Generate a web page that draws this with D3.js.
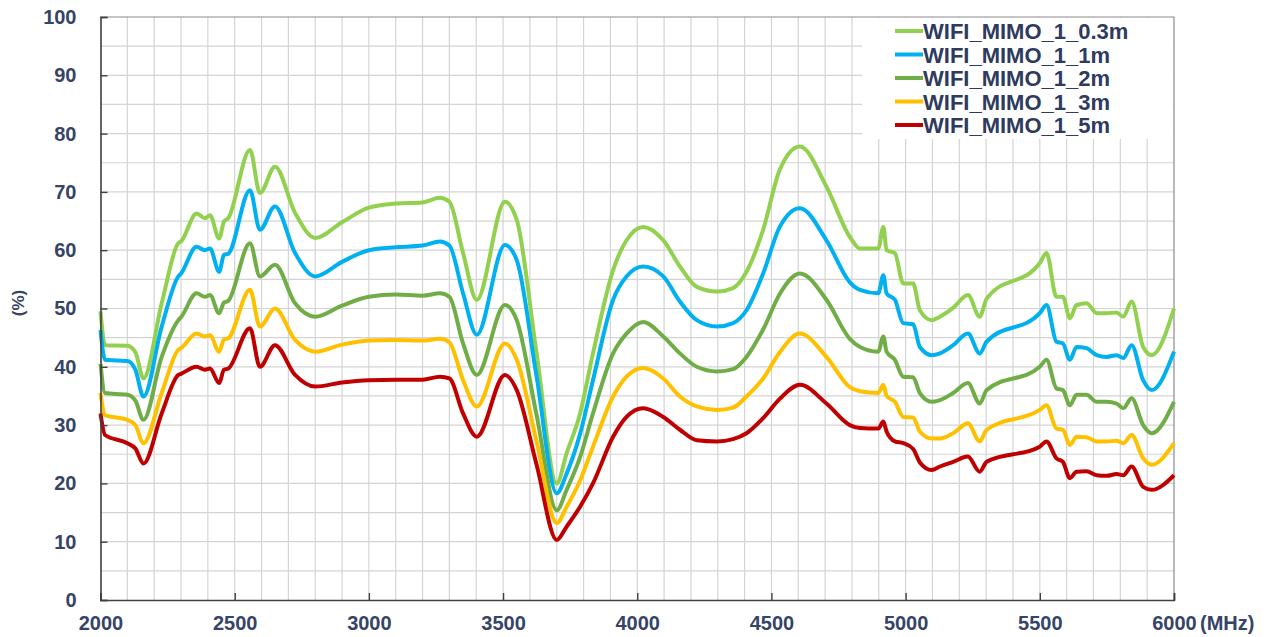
<!DOCTYPE html>
<html>
<head>
<meta charset="utf-8">
<script src="https://cdn.jsdelivr.net/npm/d3@7"></script>
<style>
	body { margin: 0; background: #fff; }
	text { font-family: 'Liberation Sans', Arial, sans-serif; font-weight: bold; }
</style>
</head>
<body>
<div id="chart"></div>
<script>
'use strict'

var FREQS = [2000, 2017, 2100, 2130, 2160, 2228, 2290, 2300, 2358, 2389, 2408, 2442, 2460, 2476,
	2557, 2594, 2650, 2725, 2800, 2900, 3000, 3100, 3200, 3265, 3300, 3351, 3402, 3507, 3551,
	3625, 3700, 3737, 3787, 3835, 3910, 3960, 4022, 4097, 4159, 4222, 4297, 4357, 4407, 4469,
	4531, 4606, 4705, 4792, 4830, 4898, 4917, 4929, 4960, 4991, 5028, 5053, 5097, 5128, 5177,
	5232, 5276, 5302, 5500, 5525, 5562, 5586, 5612, 5637, 5674, 5712, 5749, 5786, 5811, 5842,
	5885, 5917, 6000];

var MIMO_03M = [49.5, 43.7, 43.6, 42.5, 38.0, 50.9, 61.2, 61.5, 66.3, 65.5, 66.0, 62.0, 64.9, 65.5,
	77.2, 69.8, 74.3, 66.4, 62.1, 64.8, 67.3, 68.0, 68.2, 69.0, 68.3, 59.5, 51.5, 68.3, 65.2,
	42.3, 20.0, 25.2, 32.0, 42.3, 56.6, 61.7, 64.0, 61.7, 57.2, 53.7, 52.9, 53.5, 56.3, 63.5,
	73.8, 77.8, 70.9, 62.3, 60.3, 60.3, 64.0, 60.0, 59.5, 54.3, 54.3, 49.7, 48.0, 48.6, 50.1,
	52.3, 48.6, 51.7, 57.8, 59.5, 52.0, 52.0, 48.3, 50.6, 50.9, 49.2, 49.2, 49.3, 48.6, 51.2,
	43.4, 42.0, 50.0];

var MIMO_1M = [46.3, 41.2, 41.0, 39.5, 34.9, 46.9, 55.5, 56.0, 60.6, 60.0, 60.3, 56.3, 59.2, 59.4,
	70.3, 63.5, 67.5, 59.5, 55.5, 58.0, 60.0, 60.5, 60.8, 61.5, 60.8, 52.6, 45.5, 60.9, 58.3,
	38.3, 18.3, 21.7, 28.5, 37.7, 51.5, 55.5, 57.2, 55.5, 51.2, 48.0, 46.9, 47.5, 49.7, 56.0,
	64.0, 67.2, 61.7, 54.5, 53.2, 52.6, 55.7, 52.6, 51.5, 47.5, 47.3, 43.4, 42.0, 42.3, 43.7,
	45.7, 42.3, 44.3, 49.2, 50.6, 44.3, 44.0, 41.2, 43.4, 43.2, 42.0, 41.7, 42.0, 41.5, 43.7,
	37.7, 36.0, 42.6];

var MIMO_2M = [40.5, 35.5, 35.2, 34.2, 30.9, 41.7, 48.0, 48.5, 52.6, 52.0, 52.3, 49.2, 51.0, 51.3,
	61.2, 55.5, 57.5, 50.9, 48.6, 50.5, 52.0, 52.4, 52.2, 52.6, 52.0, 44.0, 38.6, 50.6, 48.0,
	31.7, 15.4, 18.9, 24.5, 32.0, 42.3, 45.7, 47.7, 45.2, 42.3, 40.0, 39.2, 39.6, 41.7, 46.4,
	52.5, 56.0, 51.5, 44.8, 43.4, 42.6, 45.2, 42.6, 41.2, 38.3, 38.2, 35.5, 34.0, 34.3, 35.5,
	37.2, 33.7, 36.0, 40.0, 41.2, 36.3, 36.0, 33.4, 35.2, 35.2, 34.0, 34.0, 33.7, 32.9, 34.6,
	30.0, 28.6, 34.0];

var MIMO_3M = [35.5, 31.7, 30.9, 30.0, 26.9, 35.5, 42.9, 43.2, 45.7, 45.2, 45.4, 42.6, 44.7, 44.9,
	53.2, 46.9, 50.0, 44.6, 42.6, 43.8, 44.5, 44.6, 44.5, 44.8, 44.2, 37.7, 33.2, 44.0, 41.2,
	27.2, 13.2, 16.0, 20.5, 26.3, 34.9, 38.3, 39.8, 38.0, 34.9, 33.2, 32.6, 33.0, 34.9, 38.0,
	42.5, 45.7, 41.7, 36.5, 35.8, 35.5, 36.9, 35.0, 34.0, 31.4, 31.3, 28.9, 27.7, 27.7, 28.6,
	30.3, 27.2, 29.2, 32.6, 33.4, 29.4, 29.2, 26.6, 28.0, 27.9, 27.2, 27.2, 27.3, 26.9, 28.3,
	24.3, 23.2, 26.9];

var MIMO_5M = [32.0, 28.3, 26.9, 26.0, 23.4, 32.0, 38.6, 38.8, 40.0, 39.5, 39.7, 37.2, 39.5, 39.7,
	46.6, 40.0, 43.7, 38.6, 36.6, 37.3, 37.7, 37.8, 37.8, 38.3, 38.0, 32.0, 28.0, 38.6, 36.0,
	23.2, 10.3, 12.6, 16.0, 20.0, 28.0, 31.4, 32.9, 31.4, 29.2, 27.4, 27.2, 27.6, 28.6, 31.2,
	34.5, 36.9, 33.7, 30.0, 29.5, 29.4, 30.6, 28.9, 27.2, 26.9, 25.9, 23.6, 22.3, 22.9, 23.7,
	24.6, 22.0, 23.7, 26.3, 27.2, 24.3, 23.7, 20.9, 22.0, 22.1, 21.4, 21.3, 21.6, 21.4, 22.9,
	19.4, 18.9, 21.4];

var SERIES_NAMES = ['WIFI_MIMO_1_0.3m', 'WIFI_MIMO_1_1m', 'WIFI_MIMO_1_2m', 'WIFI_MIMO_1_3m', 'WIFI_MIMO_1_5m'];
var SERIES_VALUES = [MIMO_03M, MIMO_1M, MIMO_2M, MIMO_3M, MIMO_5M];
var SERIES_COLORS = ['#92d050', '#00b0f0', '#70ad47', '#ffc000', '#c00000'];

var X_TICKS = [2000, 2500, 3000, 3500, 4000, 4500, 5000, 5500, 6000];
var Y_TICKS = [0, 10, 20, 30, 40, 50, 60, 70, 80, 90, 100];

var dimensions = { width: 1267, height: 637 };
var plot = { left: 100.5, right: 1174, top: 17, bottom: 600 };
var LABEL_COLOR = '#364467';

var svg = d3.select('#chart')
	.append('svg')
	.attr('width', dimensions.width)
	.attr('height', dimensions.height);

var x = d3.scaleLinear().domain([2000, 6000]).range([plot.left, plot.right]);
var y = d3.scaleLinear().domain([0, 100]).range([plot.bottom, plot.top]);

// grid: every 100 MHz and every 5 %
svg.append('g')
	.selectAll('line')
	.data(d3.range(2100, 6000, 100))
	.enter().append('line')
	.attr('x1', function(d) { return x(d); })
	.attr('x2', function(d) { return x(d); })
	.attr('y1', plot.top)
	.attr('y2', plot.bottom)
	.attr('stroke', '#d4d4d4')
	.attr('stroke-width', 1.2);

svg.append('g')
	.selectAll('line')
	.data(d3.range(5, 100, 5))
	.enter().append('line')
	.attr('x1', plot.left)
	.attr('x2', plot.right)
	.attr('y1', function(d) { return y(d); })
	.attr('y2', function(d) { return y(d); })
	.attr('stroke', '#d4d4d4')
	.attr('stroke-width', 1.2);

// top and right border
svg.append('path')
	.attr('d', 'M' + plot.left + ',' + plot.top + 'H' + plot.right + 'V' + plot.bottom)
	.attr('fill', 'none')
	.attr('stroke', '#8c8c8c')
	.attr('stroke-width', 1.2);

// legend background hides the grid behind it
svg.append('rect')
	.attr('x', 862)
	.attr('y', plot.top + 1)
	.attr('width', plot.right - 862 - 1)
	.attr('height', 121)
	.attr('fill', '#fff');

var line = d3.line()
	.x(function(d) { return x(d[0]); })
	.y(function(d) { return y(d[1]); })
	.curve(d3.curveMonotoneX);

SERIES_VALUES.forEach(function(values, i) {
	var points = FREQS.map(function(f, j) { return [f, values[j]]; });
	svg.append('path')
		.datum(points)
		.attr('d', line)
		.attr('fill', 'none')
		.attr('stroke', SERIES_COLORS[i])
		.attr('stroke-width', 4)
		.attr('stroke-linejoin', 'round');
});

// axes
var xAxis = d3.axisBottom(x).tickValues(X_TICKS).tickSize(-7).tickPadding(16).tickFormat(d3.format('d'));
var yAxis = d3.axisLeft(y).tickValues(Y_TICKS).tickSize(-7).tickPadding(24);

var gx = svg.append('g')
	.attr('transform', 'translate(0,' + plot.bottom + ')')
	.call(xAxis);
var gy = svg.append('g')
	.attr('transform', 'translate(' + plot.left + ',0)')
	.call(yAxis);

[gx, gy].forEach(function(g) {
	g.select('.domain').attr('stroke', '#404040').attr('stroke-width', 1.6);
	g.selectAll('.tick line').attr('stroke', '#404040').attr('stroke-width', 1.4);
	g.selectAll('.tick text')
		.attr('fill', LABEL_COLOR)
		.style('font-size', '20px')
		.style('font-family', "'Liberation Sans', Arial, sans-serif")
		.style('font-weight', 'bold');
});

svg.append('text')
	.attr('x', 1200)
	.attr('y', 630)
	.attr('fill', LABEL_COLOR)
	.style('font-size', '20px')
	.text('(MHz)');

svg.append('text')
	.attr('transform', 'translate(24,303) rotate(-90)')
	.attr('text-anchor', 'middle')
	.attr('fill', LABEL_COLOR)
	.style('font-size', '17px')
	.text('(%)');

// legend
var legend = svg.append('g');
SERIES_NAMES.forEach(function(name, i) {
	var yy = 31 + i * 23.5;
	legend.append('line')
		.attr('x1', 895)
		.attr('x2', 923)
		.attr('y1', yy)
		.attr('y2', yy)
		.attr('stroke', SERIES_COLORS[i])
		.attr('stroke-width', 4);
	legend.append('text')
		.attr('x', 923)
		.attr('y', yy + 8)
		.attr('fill', '#2f3b5e')
		.style('font-size', '22px')
		.text(name);
});
</script>
</body>
</html>
